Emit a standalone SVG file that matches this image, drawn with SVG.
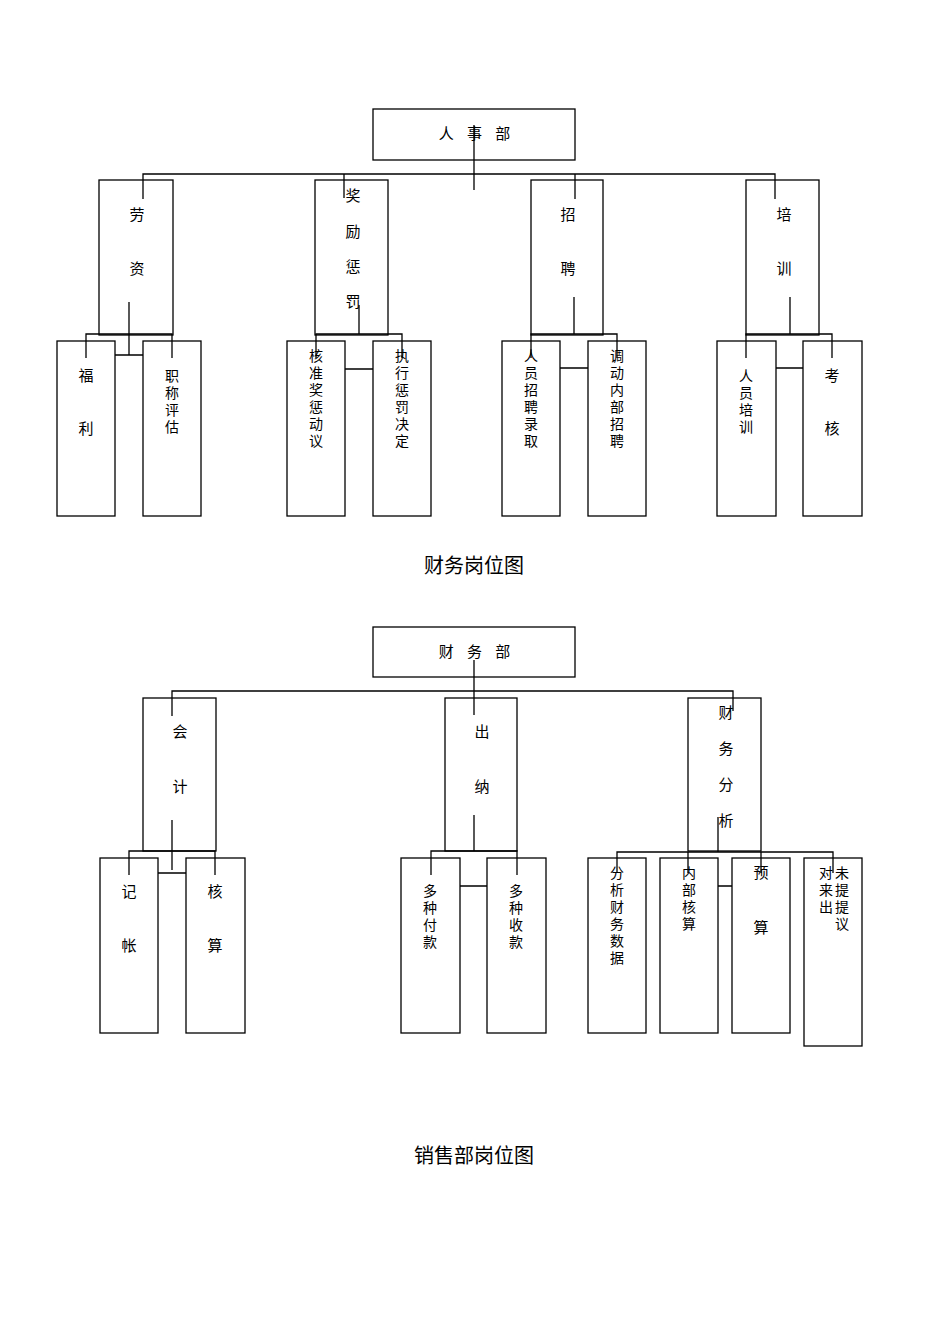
<svg xmlns="http://www.w3.org/2000/svg" width="950" height="1344" viewBox="0 0 950 1344">
<style>
rect{fill:none;stroke:#000;stroke-width:1.3}
.c path{fill:none;stroke:#000;stroke-width:1.3}
text{font-family:"Noto Sans CJK SC","Liberation Serif",serif;font-size:15px;fill:#000;text-anchor:middle}
.v{font-size:14px}
.h{letter-spacing:5px}
.t{font-size:20px}
</style>
<g class="c" id="connectors">
<path d="M474 125V190M143 199V174H775V199M344 174V198M575 174V199"/>
<path d="M129 302V355M115 355H143M86 358V334H172V358"/>
<path d="M359 305V334M316 358V334H402V358M345 369H373"/>
<path d="M574 297V334M531 358V334H617V358M560 368H588"/>
<path d="M790 297V334M746 358V334H832V358M776 368H803"/>
<path d="M474 660V715M172 716V691H733V711"/>
<path d="M172 820V870M129 875V851H215V875M158 873H186"/>
<path d="M474 815V851M431 875V851H517V875M460 886H487"/>
<path d="M718 817V852M617 873V852H833V873M688 852V873M761 852V873M718 886H732"/>
</g>
<g id="n-rs"><rect x="373" y="109" width="202" height="51"/><text class="h" x="477" y="139">人 事 部</text></g>
<g id="n-lz"><rect x="99" y="180" width="74" height="155"/><text x="137" y="220">劳</text><text x="137" y="274">资</text></g>
<g id="n-jl"><rect x="315" y="180" width="73" height="155"/><text x="353" y="201">奖</text><text x="353" y="237">励</text><text x="353" y="272">惩</text><text x="353" y="307">罚</text></g>
<g id="n-zp"><rect x="531" y="180" width="72" height="155"/><text x="568" y="220">招</text><text x="568" y="274">聘</text></g>
<g id="n-px"><rect x="746" y="180" width="73" height="155"/><text x="784" y="220">培</text><text x="784" y="274">训</text></g>
<g id="n-fl"><rect x="57" y="341" width="58" height="175"/><text x="86" y="381">福</text><text x="86" y="434">利</text></g>
<g id="n-zc"><rect x="143" y="341" width="58" height="175"/><text class="v" x="172" y="381"><tspan x="172">职</tspan><tspan x="172" dy="17">称</tspan><tspan x="172" dy="17">评</tspan><tspan x="172" dy="17">估</tspan></text></g>
<g id="n-hz"><rect x="287" y="341" width="58" height="175"/><text class="v" x="316" y="361"><tspan x="316">核</tspan><tspan x="316" dy="17">准</tspan><tspan x="316" dy="17">奖</tspan><tspan x="316" dy="17">惩</tspan><tspan x="316" dy="17">动</tspan><tspan x="316" dy="17">议</tspan></text></g>
<g id="n-zx"><rect x="373" y="341" width="58" height="175"/><text class="v" x="402" y="361"><tspan x="402">执</tspan><tspan x="402" dy="17">行</tspan><tspan x="402" dy="17">惩</tspan><tspan x="402" dy="17">罚</tspan><tspan x="402" dy="17">决</tspan><tspan x="402" dy="17">定</tspan></text></g>
<g id="n-ry"><rect x="502" y="341" width="58" height="175"/><text class="v" x="531" y="361"><tspan x="531">人</tspan><tspan x="531" dy="17">员</tspan><tspan x="531" dy="17">招</tspan><tspan x="531" dy="17">聘</tspan><tspan x="531" dy="17">录</tspan><tspan x="531" dy="17">取</tspan></text></g>
<g id="n-dd"><rect x="588" y="341" width="58" height="175"/><text class="v" x="617" y="361"><tspan x="617">调</tspan><tspan x="617" dy="17">动</tspan><tspan x="617" dy="17">内</tspan><tspan x="617" dy="17">部</tspan><tspan x="617" dy="17">招</tspan><tspan x="617" dy="17">聘</tspan></text></g>
<g id="n-rp"><rect x="717" y="341" width="59" height="175"/><text class="v" x="746" y="381"><tspan x="746">人</tspan><tspan x="746" dy="17">员</tspan><tspan x="746" dy="17">培</tspan><tspan x="746" dy="17">训</tspan></text></g>
<g id="n-kh"><rect x="803" y="341" width="59" height="175"/><text x="832" y="381">考</text><text x="832" y="434">核</text></g>
<text class="t" x="474" y="573">财务岗位图</text>
<g id="n-cw"><rect x="373" y="627" width="202" height="50"/><text class="h" x="477" y="657">财 务 部</text></g>
<g id="n-kj"><rect x="143" y="698" width="73" height="153"/><text x="180" y="737">会</text><text x="180" y="792">计</text></g>
<g id="n-cn"><rect x="445" y="698" width="72" height="153"/><text x="482" y="737">出</text><text x="482" y="792">纳</text></g>
<g id="n-fx"><rect x="688" y="698" width="73" height="153"/><text x="726" y="718">财</text><text x="726" y="754">务</text><text x="726" y="790">分</text><text x="726" y="826">析</text></g>
<g id="n-jz"><rect x="100" y="858" width="58" height="175"/><text x="129" y="897">记</text><text x="129" y="951">帐</text></g>
<g id="n-hs"><rect x="186" y="858" width="59" height="175"/><text x="215" y="897">核</text><text x="215" y="951">算</text></g>
<g id="n-fk"><rect x="401" y="858" width="59" height="175"/><text class="v" x="430" y="896"><tspan x="430">多</tspan><tspan x="430" dy="17">种</tspan><tspan x="430" dy="17">付</tspan><tspan x="430" dy="17">款</tspan></text></g>
<g id="n-sk"><rect x="487" y="858" width="59" height="175"/><text class="v" x="516" y="896"><tspan x="516">多</tspan><tspan x="516" dy="17">种</tspan><tspan x="516" dy="17">收</tspan><tspan x="516" dy="17">款</tspan></text></g>
<g id="n-sj"><rect x="588" y="858" width="58" height="175"/><text class="v" x="617" y="878"><tspan x="617">分</tspan><tspan x="617" dy="17">析</tspan><tspan x="617" dy="17">财</tspan><tspan x="617" dy="17">务</tspan><tspan x="617" dy="17">数</tspan><tspan x="617" dy="17">据</tspan></text></g>
<g id="n-nb"><rect x="660" y="858" width="58" height="175"/><text class="v" x="689" y="878"><tspan x="689">内</tspan><tspan x="689" dy="17">部</tspan><tspan x="689" dy="17">核</tspan><tspan x="689" dy="17">算</tspan></text></g>
<g id="n-ys"><rect x="732" y="858" width="58" height="175"/><text x="761" y="878">预</text><text x="761" y="933">算</text></g>
<g id="n-ty"><rect x="804" y="858" width="58" height="188"/><text class="v" x="826" y="878"><tspan x="826">对</tspan><tspan x="826" dy="17">来</tspan><tspan x="826" dy="17">出</tspan></text><text class="v" x="842" y="878"><tspan x="842">未</tspan><tspan x="842" dy="17">提</tspan><tspan x="842" dy="17">提</tspan><tspan x="842" dy="17">议</tspan></text></g>
<text class="t" x="474" y="1163">销售部岗位图</text>
</svg>
